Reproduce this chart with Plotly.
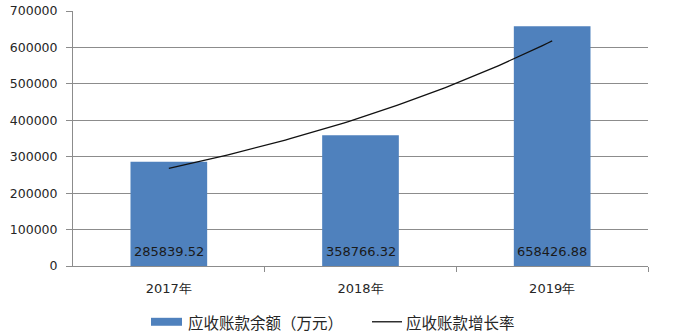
import numpy as np
import plotly.graph_objects as go

categories = ["2017年", "2018年", "2019年"]
balances = [285839.52, 358766.32, 658426.88]
label_texts = ["285839.52", "358766.32", "658426.88"]
y_ticks = [0, 100000, 200000, 300000, 400000, 500000, 600000, 700000]
bar_name = "应收账款余额（万元）"
line_name = "应收账款增长率"

idx = list(range(len(categories)))

# Exponential trendline fitted to the bar values (as in the source chart)
coef = np.polyfit(np.array(idx, dtype=float) + 1, np.log(balances), 1)
tx = np.linspace(0, len(categories) - 1, 80)
ty = np.exp(np.polyval(coef, tx + 1))

GRID = "#8c8c8c"
TXT = "#262626"

fig = go.Figure()
fig.add_trace(go.Bar(
    x=idx, y=balances, width=0.4, marker=dict(color="#4f81bd", line=dict(width=0)),
    name=bar_name, showlegend=False,
))
fig.add_trace(go.Scatter(
    x=tx, y=ty, mode="lines", line=dict(color="#111111", width=1.3),
    name=line_name, showlegend=False,
))

for i, t in zip(idx, label_texts):
    fig.add_annotation(x=i, y=0, text=t, showarrow=False, yanchor="middle",
                       yshift=14.5, font=dict(family="DejaVu Sans", size=13, color="#1a1a1a"))

# Manual legend (paper coords from pixel positions)
W, H, L, T = 575.0, 256.0, 73.0, 10.5
def px(x): return (x - L) / W
def py(y): return (T + H - y) / H

fig.add_shape(type="rect", xref="paper", yref="paper", x0=px(151), x1=px(182),
              y0=py(326.5), y1=py(318.5), fillcolor="#4f81bd", line=dict(width=0))
fig.add_annotation(xref="paper", yref="paper", x=px(186), y=py(322.5), text=bar_name,
                   showarrow=False, xanchor="left", yanchor="middle",
                   font=dict(family="Noto Sans CJK SC", size=15.5, color=TXT))
fig.add_shape(type="line", xref="paper", yref="paper", x0=px(372), x1=px(402),
              y0=py(322.5), y1=py(322.5), line=dict(color="#111111", width=1.3))
fig.add_annotation(xref="paper", yref="paper", x=px(404), y=py(322.5), text=line_name,
                   showarrow=False, xanchor="left", yanchor="middle",
                   font=dict(family="Noto Sans CJK SC", size=15.5, color=TXT))

fig.update_layout(
    width=683, height=336,
    margin=dict(l=73, r=35, t=10.5, b=69.5, autoexpand=False),
    paper_bgcolor="white", plot_bgcolor="white",
    bargap=0.6,
    font=dict(family="DejaVu Sans", size=12.5, color=TXT),
)
fig.update_xaxes(
    range=[-0.5, len(categories) - 0.5], tickmode="array", tickvals=idx, ticktext=categories,
    showgrid=False, zeroline=False, showline=True, linecolor=GRID, linewidth=1,
    ticks="", tickfont=dict(family="DejaVu Sans", size=13, color=TXT), automargin=False,
    ticklabelstandoff=10,
    minor=dict(tickmode="array", tickvals=[i + 0.5 for i in idx], ticks="outside",
               ticklen=5, tickcolor=GRID, showgrid=False),
)
fig.update_yaxes(
    range=[0, 700000], tickmode="array", tickvals=y_ticks, ticktext=[str(v) for v in y_ticks],
    showgrid=True, gridcolor=GRID, gridwidth=1, zeroline=False,
    showline=True, linecolor=GRID, linewidth=1, automargin=False,
    ticks="outside", ticklen=6, tickcolor=GRID, ticklabelstandoff=6,
    tickfont=dict(family="DejaVu Sans", size=12.5, color=TXT),
)

fig.write_html("out.html")
